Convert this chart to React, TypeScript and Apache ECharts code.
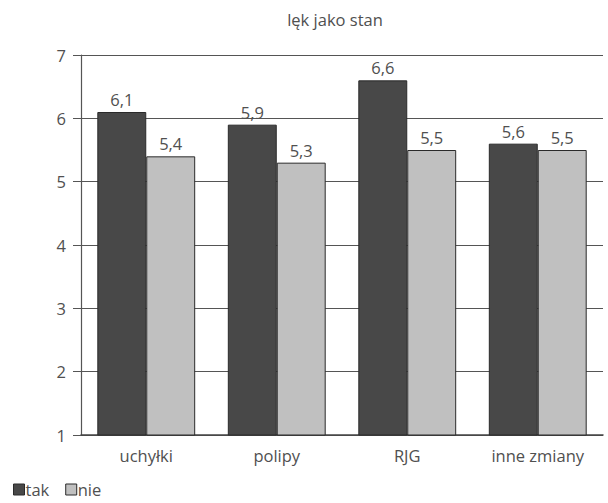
import React, { useEffect, useRef } from "react";
import * as echarts from "echarts";

const categories = ["uchyłki", "polipy", "RJG", "inne zmiany"];
const takValues = [6.1, 5.9, 6.6, 5.6];
const nieValues = [5.4, 5.3, 5.5, 5.5];
const yTicks = [1, 2, 3, 4, 5, 6, 7];

const FONT = "Open Sans";
const TEXT = "#505050";
const SIZE = 16.5;

export default function App() {
  const ref = useRef<HTMLDivElement>(null);
  useEffect(() => {
    if (!ref.current) return;
    const chart = echarts.init(ref.current, null, { renderer: "svg" });
    const fmt = (p: any) => String(p.value).replace(".", ",");
    const txt = { fontFamily: FONT, fontSize: SIZE, fontWeight: 400, color: TEXT };
    chart.setOption({
      animation: false,
      textStyle: { fontFamily: FONT },
      title: {
        text: "lęk jako stan",
        left: 330,
        textAlign: "center",
        top: 6,
        textStyle: { ...txt },
      },
      legend: {
        left: 8,
        bottom: 0,
        itemWidth: 11,
        itemHeight: 11,
        itemGap: 16,
        icon: "rect",
        itemStyle: { borderColor: "#2a2a2a", borderWidth: 1 },
        textStyle: { ...txt, padding: [0, 0, 0, -4] },
        data: ["tak", "nie"],
      },
      grid: { left: 81, right: 5, top: 55, bottom: 68 },
      xAxis: {
        type: "category",
        data: categories,
        axisLine: { lineStyle: { color: "#444", width: 1.5 } },
        axisTick: { show: false },
        axisLabel: { ...txt, margin: 12 },
      },
      yAxis: {
        type: "value",
        min: yTicks[0],
        max: yTicks[yTicks.length - 1],
        interval: 1,
        axisLine: { show: true, lineStyle: { color: "#555", width: 1.2 } },
        axisTick: { show: true, inside: false, length: 8, lineStyle: { color: "#555" } },
        axisLabel: { ...txt, margin: 15 },
        splitLine: { show: true, lineStyle: { color: "#555", width: 1.2 } },
      },
      series: [
        {
          name: "tak",
          type: "bar",
          data: takValues,
          barGap: "0%",
          barCategoryGap: "25%",
          itemStyle: { color: "#484848", borderColor: "#2a2a2a", borderWidth: 1 },
          label: { show: true, position: "top", formatter: fmt, ...txt, distance: 4 },
        },
        {
          name: "nie",
          type: "bar",
          data: nieValues,
          itemStyle: { color: "#c0c0c0", borderColor: "#2a2a2a", borderWidth: 1 },
          label: { show: true, position: "top", formatter: fmt, ...txt, distance: 4 },
        },
      ],
    });
    return () => chart.dispose();
  }, []);
  return <div ref={ref} style={{ width: 608, height: 503, position: "absolute", left: 0, top: 0 }} />;
}
